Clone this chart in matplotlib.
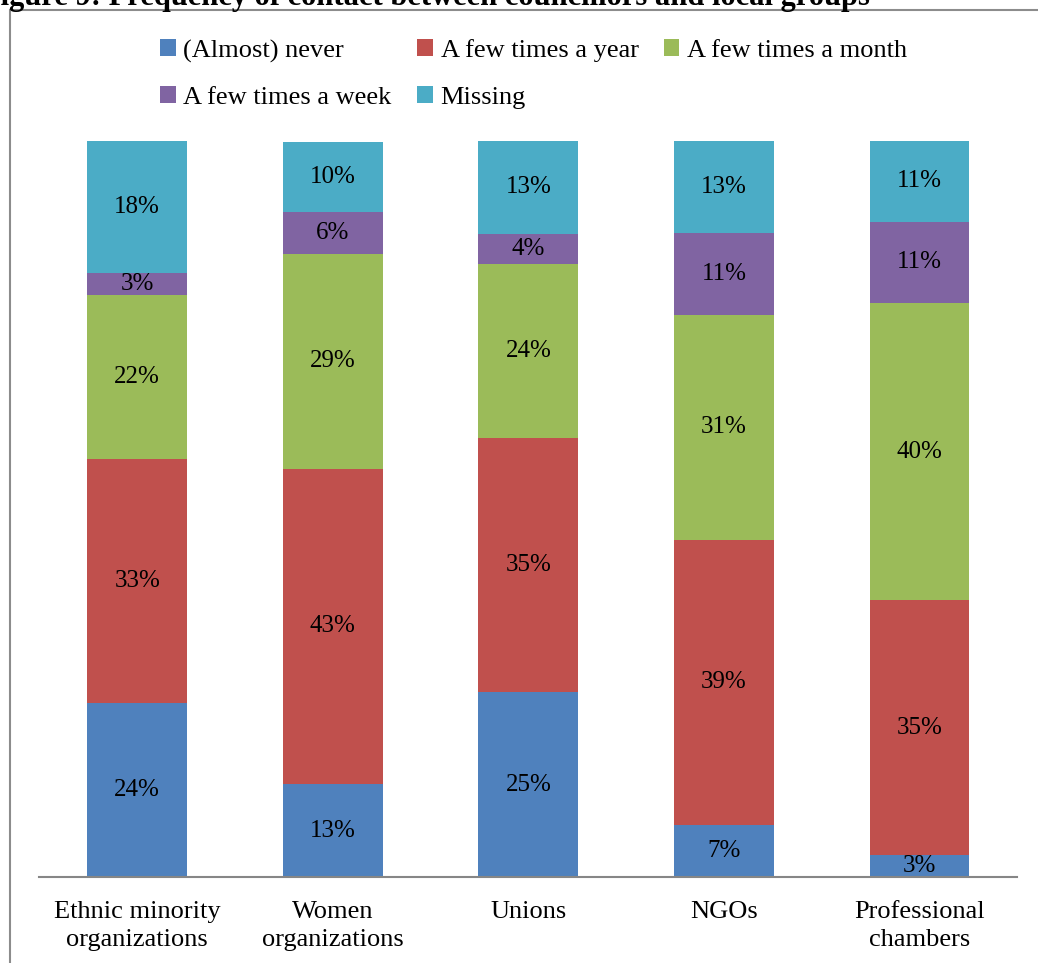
import matplotlib.pyplot as plt
from matplotlib.patches import Rectangle
import numpy as np

# Share of councillors by frequency of contact (percent of each group)
groups = ["Ethnic minority\norganizations", "Women\norganizations", "Unions",
          "NGOs", "Professional\nchambers"]
almost_never = [23.6, 12.6, 25.1, 7.1, 3.0]
few_year = [33.2, 42.9, 34.6, 38.7, 34.6]
few_month = [22.3, 29.1, 23.6, 30.6, 40.4]
few_week = [2.9, 5.7, 4.1, 11.1, 11.0]
missing = [18.1, 9.6, 12.6, 12.6, 11.1]

series = [
    ("(Almost) never", almost_never, "#4f81bd"),
    ("A few times a year", few_year, "#c0504d"),
    ("A few times a month", few_month, "#9bbb59"),
    ("A few times a week", few_week, "#8064a2"),
    ("Missing", missing, "#4bacc6"),
]

plt.rcParams["font.family"] = ["Liberation Serif", "DejaVu Serif"]

fig = plt.figure(figsize=(10.38, 9.63), dpi=100)
ax = fig.add_axes([0.038, 0.0893, 0.942, 0.7643])

x = np.arange(len(groups))
bottom = np.zeros(len(groups))
handles = []
for label, vals, color in series:
    vals = np.array(vals)
    bars = ax.bar(x, vals, width=0.51, bottom=bottom, color=color, label=label)
    handles.append(bars)
    for xi, b, v in zip(x, bottom, vals):
        ax.text(xi, b + v / 2, f"{v:.0f}%", ha="center", va="center",
                fontsize=18, color="black")
    bottom += vals

ax.set_xlim(-0.5, 4.5)
ax.set_ylim(0, 100)
ax.set_xticks(x)
ax.set_xticklabels(groups, fontsize=19, linespacing=1.35)
ax.tick_params(axis="x", length=0, pad=17)
ax.set_yticks([])
for side in ["left", "right", "top"]:
    ax.spines[side].set_visible(False)
ax.spines["bottom"].set_color("#868686")
ax.spines["bottom"].set_linewidth(1.5)

# Legend fills column by column, so reorder to read across rows
order = [0, 3, 1, 4, 2]
fig.legend(handles=[handles[i] for i in order], loc="upper left",
           bbox_to_anchor=(0.131, 0.984), ncol=3, frameon=False, fontsize=19,
           handlelength=0.6, handleheight=0.6, handletextpad=0.3,
           columnspacing=0.95, labelspacing=0.9)

# Chart frame
fig.patches.append(Rectangle((10 / 1038, -0.05), 1.2, 1 - 10 / 963 + 0.05,
                             transform=fig.transFigure, fill=False,
                             edgecolor="#8c8c8c", linewidth=1.5))

# Figure caption
fig.text(870 / 1038, 1 - 5 / 963,
         "Figure 9: Frequency of contact between councillors and local groups",
         fontsize=22, fontweight="bold", ha="right", va="baseline")

fig.savefig("out.png", dpi=100)
